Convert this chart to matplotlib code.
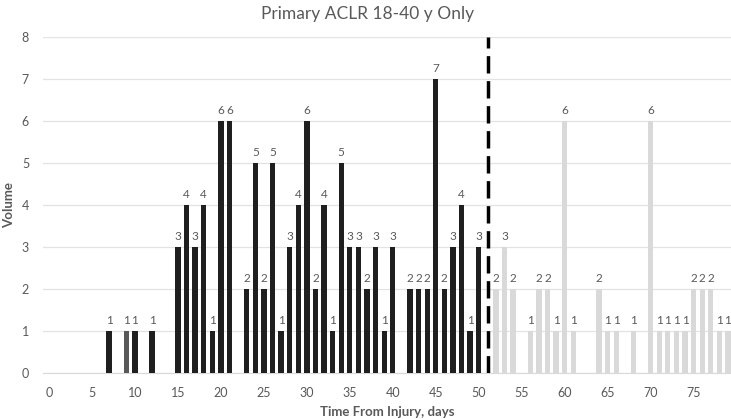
import matplotlib
matplotlib.use("Agg")
import matplotlib.pyplot as plt

plt.rcParams['font.family'] = ['Lato', 'DejaVu Sans']

title = "Primary ACLR 18-40 y Only"
xlabel = "Time From Injury, days"
ylabel = "Volume"

early_days = [7, 9, 10, 12, 15, 16, 17, 18, 19, 20, 21, 23, 24, 25, 26, 27, 28, 29, 30,
              31, 32, 33, 34, 35, 36, 37, 38, 39, 40, 42, 43, 44, 45, 46, 47, 48, 49, 50]
early_vol = [1, 1, 1, 1, 3, 4, 3, 4, 1, 6, 6, 2, 5, 2, 5, 1, 3, 4, 6,
             2, 4, 1, 5, 3, 3, 2, 3, 1, 3, 2, 2, 2, 7, 2, 3, 4, 1, 3]
late_days = [52, 53, 54, 56, 57, 58, 59, 60, 61, 64, 65, 66, 68, 70, 71, 72, 73, 74,
             75, 76, 77, 78, 79]
late_vol = [2, 3, 2, 1, 2, 2, 1, 6, 1, 2, 1, 1, 1, 6, 1, 1, 1, 1, 2, 2, 2, 1, 1]
highlight_day = 9
cutoff_day = 51.1
x_ticks = list(range(0, 80, 5))
y_ticks = list(range(0, 9))

TXT = '#595959'
fig = plt.figure(figsize=(7.31, 4.19), dpi=100)
ax = fig.add_axes([0.0588, 0.109, 0.9412, 0.802])

early_colors = ['#595959' if d == highlight_day else '#1f1f1f' for d in early_days]
b1 = ax.bar(early_days, early_vol, width=0.62, color=early_colors, zorder=3)
b2 = ax.bar(late_days, late_vol, width=0.62, color='#d9d9d9', zorder=3)
for bars in (b1, b2):
    ax.bar_label(bars, padding=4, color=TXT, fontsize=8.5)

ax.axvline(cutoff_day, color='black', lw=2.5, ls=(0, (5, 2.2)), zorder=4)

ax.set_xlim(-0.7, 79.35)
ax.set_ylim(0, 8)
ax.set_xticks(x_ticks)
ax.set_yticks(y_ticks)
ax.tick_params(axis='both', length=0, colors=TXT, labelsize=9)
ax.tick_params(axis='x', pad=10)
ax.tick_params(axis='y', pad=10)
ax.grid(axis='y', color='#e3e3e3', lw=0.9, zorder=0)
for s in ('top', 'right', 'left'):
    ax.spines[s].set_visible(False)
ax.spines['bottom'].set_color('#d9d9d9')

ax.set_xlabel(xlabel, color=TXT, fontsize=9.5, fontweight='bold', labelpad=5)
ax.set_ylabel(ylabel, color=TXT, fontsize=9.5, fontweight='bold', labelpad=5)
fig.text(0.503, 0.966, title, ha='center', va='center', color=TXT, fontsize=12.5)

fig.savefig('out.png', dpi=100)
